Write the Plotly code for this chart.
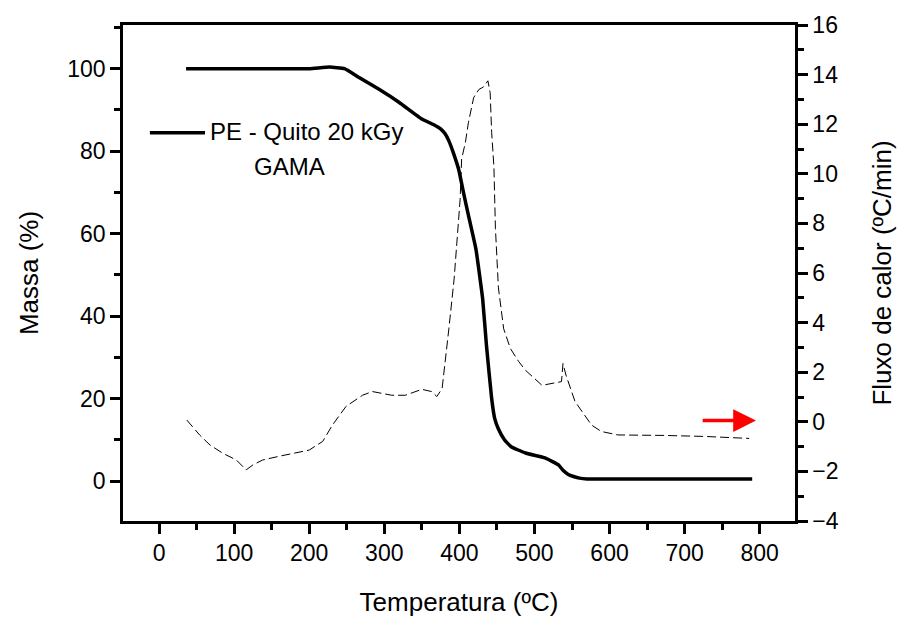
import plotly.graph_objects as go

# TGA mass curve (left axis)
temp_mass = [36, 100, 200, 227, 247, 267, 293, 320, 350, 366, 375, 381, 386, 392, 399, 406, 412, 422, 431,
             436, 443, 447, 452, 460, 469, 488, 514, 532, 538, 545, 552, 560, 570, 600, 700, 790]
mass = [100, 100, 100, 100.4, 100, 97.8, 95, 91.8, 87.8, 86.4, 85.4, 84.2, 82.5, 79.6, 75.6, 69.5, 64.5, 56.3, 44.2,
        33, 20, 15.2, 12.6, 10, 8.3, 6.8, 5.6, 3.9, 2.6, 1.6, 1.1, 0.7, 0.5, 0.5, 0.5, 0.5]

# Heat flow curve (right axis)
temp_flow = [37, 54, 68, 85, 103, 116, 125, 138, 160, 200, 218, 231, 249, 271, 284, 310, 328, 350, 363,
             370, 377, 383, 386, 393, 397, 401, 403, 408, 412, 419, 426, 432, 438, 441, 443, 446, 448,
             452, 459, 468, 479, 488, 510, 536, 538, 542, 554, 576, 589, 611, 673, 726, 786]
flow = [0.07, -0.53, -0.94, -1.27, -1.54, -1.94, -1.74, -1.54, -1.39, -1.14, -0.79, -0.13, 0.62, 1.07, 1.22,
        1.07, 1.07, 1.31, 1.22, 1.02, 1.34, 2.83, 3.75, 5.76, 7.36, 8.97, 10.6, 11.26, 12.06, 13.07, 13.4,
        13.5, 13.75, 13.27, 11.66, 10.3, 7.8, 5.4, 3.75, 2.95, 2.43, 2.08, 1.47, 1.62, 2.35, 1.88, 0.82,
        -0.13, -0.39, -0.53, -0.55, -0.59, -0.67]

legend_label = "PE - Quito 20 kGy"
legend_sub = "GAMA"

FONT = "Liberation Sans, Arial, sans-serif"
FS_TICK = 23
FS_TITLE = 26
FS_LEG = 24

fig = go.Figure()
fig.add_trace(go.Scatter(x=temp_flow, y=flow, yaxis="y2", mode="lines",
                         line=dict(color="black", width=1, dash="9px,4px"),
                         showlegend=False))
fig.add_trace(go.Scatter(x=temp_mass, y=mass, mode="lines", line_shape="spline",
                         line=dict(color="black", width=3.5, smoothing=0.35),
                         showlegend=False, name=legend_label))

axis_common = dict(showline=True, linecolor="black", linewidth=2.5, ticks="outside",
                   tickwidth=2.5, ticklen=10, tickcolor="black", showgrid=False, zeroline=False,
                   tickfont=dict(family=FONT, size=FS_TICK, color="black"))
minor_common = dict(ticks="outside", ticklen=6, tickwidth=2.5, tickcolor="black")

fig.update_layout(
    width=905, height=625,
    margin=dict(l=123, r=108, t=25, b=102),
    plot_bgcolor="white", paper_bgcolor="white",
    font=dict(family=FONT, size=FS_TICK, color="black"),
    xaxis=dict(range=[-48, 847], dtick=100, tick0=0, mirror=True,
               minor=dict(dtick=50, **minor_common),
               title=dict(text="Temperatura (ºC)", font=dict(family=FONT, size=FS_TITLE), standoff=28),
               **axis_common),
    yaxis=dict(range=[-9.7, 110.6], dtick=20, tick0=0,
               minor=dict(dtick=10, **minor_common),
               title=dict(text="Massa (%)", font=dict(family=FONT, size=FS_TITLE), standoff=22),
               **axis_common),
    yaxis2=dict(range=[-4, 16], dtick=2, tick0=0, overlaying="y", side="right",
                minor=dict(dtick=1, **minor_common),
                title=dict(text="Fluxo de calor (ºC/min)", font=dict(family=FONT, size=FS_TITLE), standoff=36),
                **axis_common),
)

# Legend sample line and text
fig.add_shape(type="line", xref="paper", yref="paper", x0=0.04, x1=0.122, y0=0.783, y1=0.783,
              line=dict(color="black", width=3.5))
fig.add_annotation(xref="paper", yref="paper", x=0.127, y=0.785, xanchor="left", yanchor="middle",
                   text=legend_label, showarrow=False, font=dict(family=FONT, size=FS_LEG, color="black"))
fig.add_annotation(xref="paper", yref="paper", x=0.248, y=0.715, xanchor="center", yanchor="middle",
                   text=legend_sub, showarrow=False, font=dict(family=FONT, size=FS_LEG, color="black"))

# Red arrow pointing to right axis
fig.add_annotation(x=795, y=0.05, xref="x", yref="y2", ax=722, ay=0.05, axref="x", ayref="y2",
                   text="", showarrow=True, arrowhead=2, arrowsize=1.3, arrowwidth=3.5,
                   arrowcolor="red")

fig.write_html("out.html")
